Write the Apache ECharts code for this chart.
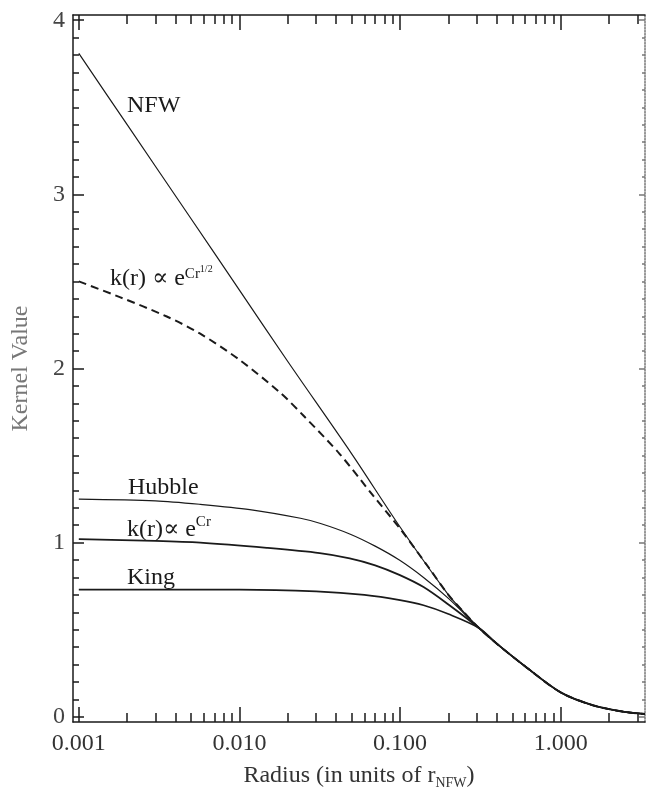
<!DOCTYPE html>
<html>
<head>
<meta charset="utf-8">
<script src="https://cdn.jsdelivr.net/npm/echarts@6/dist/echarts.min.js"></script>
<style>
  html, body { margin: 0; padding: 0; background: #fff; }
  #chart { width: 646px; height: 795px; }
</style>
</head>
<body>
<div id="chart"></div>
<script>
// axis ranges (radius in units of r_NFW, log scale)
const rMin = 0.00092;
const rMax = 3.35;
const yMin = -0.03;
const yMax = 4.03;
const xMajor = [0.001, 0.01, 0.1, 1];
const yMajor = [0, 1, 2, 3, 4];

// outer part, all kernels follow it past r ~ 0.3
const tailR = [0.4, 0.6, 1.0, 1.6, 2.5, 3.35];
const tailK = [0.42, 0.29, 0.14, 0.065, 0.028, 0.016];

const nfwR = [0.001, 0.002, 0.005, 0.01, 0.02, 0.05, 0.1, 0.2, 0.25, 0.31];
const nfwK = [3.81, 3.40, 2.86, 2.45, 2.04, 1.51, 1.09, 0.70, 0.60, 0.51];

const sqrtR = [0.001, 0.0018, 0.0035, 0.0057, 0.01, 0.018, 0.025, 0.042, 0.068, 0.1, 0.15, 0.2, 0.25, 0.31];
const sqrtK = [2.50, 2.41, 2.30, 2.20, 2.05, 1.86, 1.73, 1.51, 1.27, 1.08, 0.86, 0.70, 0.60, 0.51];

const hubbleR = [0.001, 0.003, 0.0057, 0.0116, 0.024, 0.032, 0.0486, 0.07, 0.099, 0.14, 0.2, 0.31];
const hubbleK = [1.25, 1.24, 1.22, 1.19, 1.14, 1.11, 1.05, 0.98, 0.90, 0.80, 0.68, 0.51];

const expR = [0.001, 0.003, 0.0057, 0.0148, 0.0316, 0.0486, 0.07, 0.099, 0.14, 0.2, 0.31];
const expK = [1.02, 1.01, 1.00, 0.97, 0.94, 0.91, 0.87, 0.815, 0.745, 0.645, 0.51];

const kingR = [0.001, 0.01, 0.03, 0.06, 0.1, 0.14, 0.2, 0.31];
const kingK = [0.73, 0.73, 0.72, 0.70, 0.67, 0.64, 0.59, 0.51];

const lg = Math.log10;
function pts(rs, ks) {
  const out = rs.map((r, i) => [lg(r), ks[i]]);
  tailR.forEach((r, i) => out.push([lg(r), tailK[i]]));
  return out;
}

// minor log ticks 2..9 per decade
const xMinor = [];
for (let d = -4; d <= 0; d++) {
  for (let k = 2; k <= 9; k++) {
    const v = k * Math.pow(10, d);
    if (v > rMin && v < rMax) xMinor.push(lg(v));
  }
}
const yMinor = [];
for (let i = 1; i < 40; i++) {
  if (i % 10 !== 0) yMinor.push(i / 10);
}

const serif = '"Liberation Serif", "DejaVu Serif", serif';
const ink = '#1a1a1a';

function xAx(pos, ticks, len, major) {
  return {
    type: 'value', position: pos,
    min: lg(rMin), max: lg(rMax),
    splitLine: { show: false },
    axisLine: { show: major, onZero: false, lineStyle: { color: ink, width: 1.5 } },
    axisTick: { inside: true, length: len, customValues: ticks, lineStyle: { color: ink, width: 1.5 } },
    axisLabel: { show: false }
  };
}
function yAx(pos, ticks, len, major, color) {
  return {
    type: 'value', position: pos,
    min: yMin, max: yMax,
    splitLine: { show: false },
    axisLine: { show: major, onZero: false, lineStyle: { color: color, width: 1.5, type: pos === 'right' ? 'dotted' : 'solid' } },
    axisTick: { inside: true, length: len, customValues: ticks, lineStyle: { color: color, width: 1.5 } },
    axisLabel: { show: false }
  };
}

const xBottom = xAx('bottom', xMajor.map(lg), 15, true);
xBottom.axisLabel = {
  show: true, customValues: xMajor.map(lg), margin: 10,
  formatter: v => Math.pow(10, v).toFixed(3),
  fontSize: 24, fontFamily: serif, color: '#333'
};
xBottom.name = '{a|Radius (in units of r}{s|NFW}{a|)}';
xBottom.nameLocation = 'middle';
xBottom.nameGap = 40;
xBottom.nameTextStyle = {
  rich: {
    a: { fontSize: 24, lineHeight: 28, fontFamily: serif, color: '#333' },
    s: { fontSize: 14, lineHeight: 14, verticalAlign: 'bottom', fontFamily: serif, color: '#333' }
  }
};

const yLeft = yAx('left', yMajor, 11, true, ink);
yLeft.axisLabel = {
  show: true, customValues: yMajor, margin: 8,
  fontSize: 24, fontFamily: serif, color: '#444'
};
yLeft.name = 'Kernel Value';
yLeft.nameLocation = 'middle';
yLeft.nameGap = 40;
yLeft.nameTextStyle = { fontSize: 24, fontFamily: serif, color: '#777' };

function line(data, width, dashed) {
  return {
    type: 'line', data: data, xAxisIndex: 0, yAxisIndex: 0,
    showSymbol: false, smooth: 0.3, silent: true,
    lineStyle: { color: ink, width: width, type: dashed ? [8, 5] : 'solid' }
  };
}

const label = (left, top, text, rich) => ({
  type: 'text', left: left, top: top, silent: true,
  style: { text: text, fontSize: 24, fontFamily: serif, fill: ink, rich: rich }
});

const chart = echarts.init(document.getElementById('chart'));
chart.setOption({
  animation: false,
  backgroundColor: '#fff',
  grid: { left: 73, right: 1, top: 15, bottom: 69 },
  xAxis: [
    xBottom,
    xAx('bottom', xMinor, 9, false),
    xAx('top', xMajor.map(lg), 15, true),
    xAx('top', xMinor, 9, false)
  ],
  yAxis: [
    yLeft,
    yAx('left', yMinor, 6, false, ink),
    yAx('right', yMajor, 6, true, '#777'),
    yAx('right', yMinor, 3, false, '#777')
  ],
  series: [
    line(pts(nfwR, nfwK), 1.2, false),
    line(pts(sqrtR, sqrtK), 2, true),
    line(pts(hubbleR, hubbleK), 1.2, false),
    line(pts(expR, expK), 1.8, false),
    line(pts(kingR, kingK), 1.6, false)
  ],
  graphic: [
    label(127, 94, 'NFW'),
    label(110, 264, '{a|k(r) \u221D e}{s|Cr}{t|1/2}', {
      a: { fontSize: 24, lineHeight: 30, fontFamily: serif, fill: ink },
      s: { fontSize: 15, lineHeight: 18, verticalAlign: 'top', padding: [3, 0, 0, 0], fontFamily: serif, fill: ink },
      t: { fontSize: 10, lineHeight: 10, verticalAlign: 'top', fontFamily: serif, fill: ink }
    }),
    label(128, 476, 'Hubble'),
    label(127, 515, '{a|k(r)\u221D e}{s|Cr}', {
      a: { fontSize: 24, lineHeight: 30, fontFamily: serif, fill: ink },
      s: { fontSize: 15, lineHeight: 18, verticalAlign: 'top', fontFamily: serif, fill: ink }
    }),
    label(127, 566, 'King')
  ]
});
</script>
</body>
</html>
